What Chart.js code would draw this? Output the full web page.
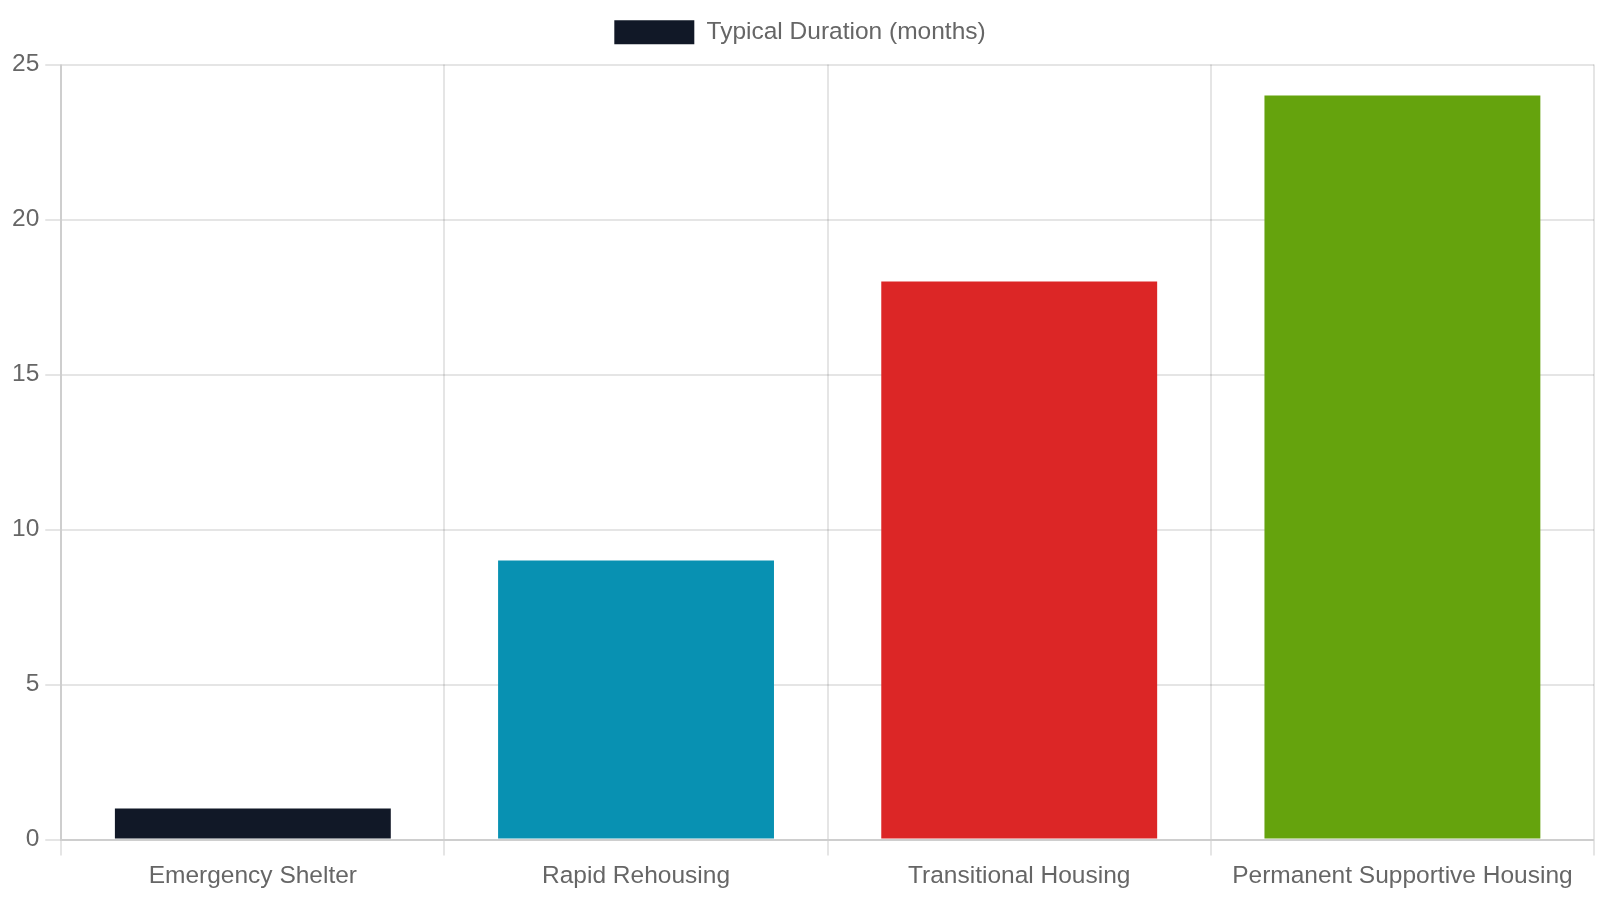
<!DOCTYPE html>
<html>
<head>
    <title>Typical Duration</title>
    <style>
        html, body { margin: 0; padding: 0; background: #ffffff; }
        #wrap { width: 1600px; height: 900px; }
    </style>
</head>
<body>

    <div id="wrap">
        <canvas id="myChart"></canvas>
    </div>

    <script src="https://cdn.jsdelivr.net/npm/chart.js"></script>

    <script>
        const categories = ["Emergency Shelter", "Rapid Rehousing", "Transitional Housing", "Permanent Supportive Housing"];
        const durations = [1, 9, 18, 24];
        const barColors = ["#111827", "#0891b2", "#dc2626", "#65a30d"];

        // everything is drawn at about twice the usual Chart.js size
        Chart.defaults.font.family = "'Liberation Sans', Arial, sans-serif";
        Chart.defaults.font.size = 24.5;

        // a bit more room under the legend
        const legendGap = {
            id: "legendGap",
            beforeInit(chart) {
                const fit = chart.legend.fit;
                chart.legend.fit = function () {
                    fit.bind(chart.legend)();
                    this.height += 10;
                };
            }
        };

        const ctx = document.getElementById("myChart");

        window.durationChart = new Chart(ctx, {
            type: "bar",
            data: {
                labels: categories,
                datasets: [
                    {
                        label: "Typical Duration (months)",
                        data: durations,
                        backgroundColor: barColors,
                        borderWidth: 0
                    }
                ]
            },
            options: {
                responsive: true,
                maintainAspectRatio: false,
                animation: false,
                layout: {
                    padding: { left: 6, right: 6, bottom: 3 }
                },
                scales: {
                    x: {
                        grid: { lineWidth: 2, tickLength: 16 },
                        border: { width: 2 },
                        ticks: { padding: 6 }
                    },
                    y: {
                        beginAtZero: true,
                        max: 25,
                        grid: { lineWidth: 2, tickLength: 16 },
                        border: { width: 2 },
                        ticks: { stepSize: 5, padding: 6 }
                    }
                },
                plugins: {
                    legend: {
                        display: true,
                        labels: {
                            boxWidth: 80,
                            boxHeight: 24,
                            padding: 20
                        }
                    }
                }
            },
            plugins: [legendGap]
        });
    </script>

</body>
</html>
